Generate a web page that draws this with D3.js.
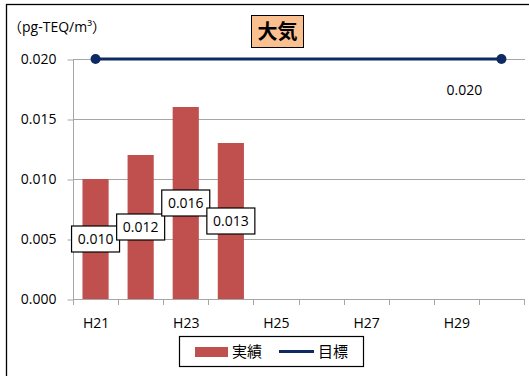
<!DOCTYPE html>
<html>
<head>
<meta charset="utf-8">
<script src="https://cdn.jsdelivr.net/npm/d3@7"></script>
<style>
  body { margin: 0; background: #fff; }
  svg { display: block; font-family: "Open Sans", "Noto Sans CJK JP", sans-serif; }
</style>
</head>
<body>
<svg id="chart" width="529" height="376"></svg>
<script>
var years = ["H21", "H22", "H23", "H24", "H25", "H26", "H27", "H28", "H29", "H30"];
var actual = [0.010, 0.012, 0.016, 0.013, null, null, null, null, null, null];
var target = [0.020, null, null, null, null, null, null, null, null, 0.020];
var yTicks = [0.000, 0.005, 0.010, 0.015, 0.020];
var xLabels = ["H21", "H23", "H25", "H27", "H29"];

var svg = d3.select("#chart");

var x = d3.scaleBand()
  .domain(years)
  .range([73, 524])
  .paddingInner(0.42)
  .paddingOuter(0.21);

var xs = d3.scaleBand().domain(years).range([73, 524]);

var y = d3.scaleLinear()
  .domain([0, 0.020])
  .range([299, 59]);

// outer frame
svg.append("rect")
  .attr("x", 6.5).attr("y", 4.5)
  .attr("width", 600).attr("height", 400)
  .attr("fill", "none").attr("stroke", "#000").attr("stroke-width", 1.3);

// gridlines
svg.append("g")
  .selectAll("line")
  .data(yTicks.slice(1))
  .enter().append("line")
    .attr("x1", 73).attr("x2", 525)
    .attr("y1", function(d) { return Math.round(y(d)) + 0.5; })
    .attr("y2", function(d) { return Math.round(y(d)) + 0.5; })
    .attr("stroke", "#a6a6a6");

// y axis
var yAxis = svg.append("g")
  .attr("transform", "translate(73.5,0.5)")
  .call(d3.axisLeft(y).tickValues(yTicks).tickFormat(d3.format(".3f")).tickSize(6).tickPadding(11));
yAxis.select(".domain").attr("stroke", "#a6a6a6").attr("d", "M0," + y(0.020) + "V" + y(0));
yAxis.selectAll(".tick line").attr("stroke", "#a6a6a6");
yAxis.selectAll("text").attr("fill", "#000").style("font-size", "14px")
  .style("font-family", "'Open Sans', sans-serif");

// x axis
var xAxis = svg.append("g")
  .attr("transform", "translate(0.5,299.5)")
  .call(d3.axisBottom(xs).tickSize(0).tickFormat(function(d) { return xLabels.indexOf(d) >= 0 ? d : ""; }).tickPadding(19));
xAxis.select(".domain").attr("stroke", "#a6a6a6").attr("d", "M73,0H524");
xAxis.selectAll("text").attr("fill", "#000").style("font-size", "14px")
  .style("font-family", "'Open Sans', sans-serif");
svg.append("g")
  .selectAll("line")
  .data(d3.range(years.length + 1))
  .enter().append("line")
    .attr("x1", function(i) { return Math.round(73 + xs.step() * i) + 0.5; })
    .attr("x2", function(i) { return Math.round(73 + xs.step() * i) + 0.5; })
    .attr("y1", 299).attr("y2", 305)
    .attr("stroke", "#a6a6a6");

// bars
var barData = years.map(function(d, i) { return {year: d, v: actual[i]}; })
  .filter(function(d) { return d.v != null; });

svg.append("g")
  .selectAll("rect")
  .data(barData)
  .enter().append("rect")
    .attr("x", function(d) { return x(d.year); })
    .attr("y", function(d) { return y(d.v); })
    .attr("width", x.bandwidth())
    .attr("height", function(d) { return y(0) - y(d.v); })
    .attr("fill", "#c0504d");

// target line
var tData = years.map(function(d, i) { return {year: d, v: target[i]}; })
  .filter(function(d) { return d.v != null; });

var line = d3.line()
  .x(function(d) { return xs(d.year) + xs.bandwidth() / 2; })
  .y(function(d) { return y(d.v); });

svg.append("path")
  .datum(tData)
  .attr("d", line)
  .attr("fill", "none")
  .attr("stroke", "#0e2a62")
  .attr("stroke-width", 3);

svg.append("g")
  .selectAll("circle")
  .data(tData)
  .enter().append("circle")
    .attr("cx", function(d) { return xs(d.year) + xs.bandwidth() / 2; })
    .attr("cy", function(d) { return y(d.v); })
    .attr("r", 5)
    .attr("fill", "#0e2a62");

// target label
var lastT = tData[tData.length - 1];
svg.append("text")
  .attr("x", xs(lastT.year) + xs.bandwidth() / 2 - 37)
  .attr("y", y(lastT.v) + 36)
  .attr("text-anchor", "middle")
  .style("font-size", "14px")
  .text(d3.format(".3f")(lastT.v));

// bar labels
var lbl = svg.append("g")
  .selectAll("g")
  .data(barData)
  .enter().append("g")
    .attr("transform", function(d) {
      return "translate(" + (x(d.year) + x.bandwidth() / 2) + "," + y(d.v / 2) + ")";
    });
lbl.append("rect")
  .attr("x", -24).attr("y", -13)
  .attr("width", 48).attr("height", 26)
  .attr("fill", "#fff").attr("stroke", "#000").attr("stroke-width", 1.2);
lbl.append("text")
  .attr("text-anchor", "middle")
  .attr("dy", "0.36em")
  .style("font-size", "14px")
  .text(function(d) { return d3.format(".3f")(d.v); });

// unit label
svg.append("text")
  .attr("x", 8).attr("y", 32)
  .style("font-size", "14px")
  .text("（pg-TEQ/m³）");

// title
svg.append("rect")
  .attr("x", 251.5).attr("y", 15.5)
  .attr("width", 52).attr("height", 32)
  .attr("fill", "#fac090").attr("stroke", "#000").attr("stroke-width", 1);
svg.append("text")
  .attr("x", 277.5).attr("y", 31.5)
  .attr("text-anchor", "middle")
  .attr("dy", "0.36em")
  .style("font-size", "20px")
  .style("font-weight", "bold")
  .style("font-family", "'Noto Sans CJK JP', sans-serif")
  .text("大気");

// legend
var legend = svg.append("g");
legend.append("rect")
  .attr("x", 179.5).attr("y", 336.5)
  .attr("width", 184).attr("height", 30)
  .attr("fill", "#fff").attr("stroke", "#000").attr("stroke-width", 1.2);
legend.append("rect")
  .attr("x", 195).attr("y", 347)
  .attr("width", 33).attr("height", 10)
  .attr("fill", "#c0504d");
legend.append("text")
  .attr("x", 232).attr("y", 352).attr("dy", "0.36em")
  .style("font-size", "15px")
  .style("font-family", "'Noto Sans CJK JP', sans-serif")
  .text("実績");
legend.append("line")
  .attr("x1", 279).attr("x2", 314)
  .attr("y1", 351.5).attr("y2", 351.5)
  .attr("stroke", "#0e2a62").attr("stroke-width", 3);
legend.append("text")
  .attr("x", 318).attr("y", 352).attr("dy", "0.36em")
  .style("font-size", "15px")
  .style("font-family", "'Noto Sans CJK JP', sans-serif")
  .text("目標");
</script>
</body>
</html>
